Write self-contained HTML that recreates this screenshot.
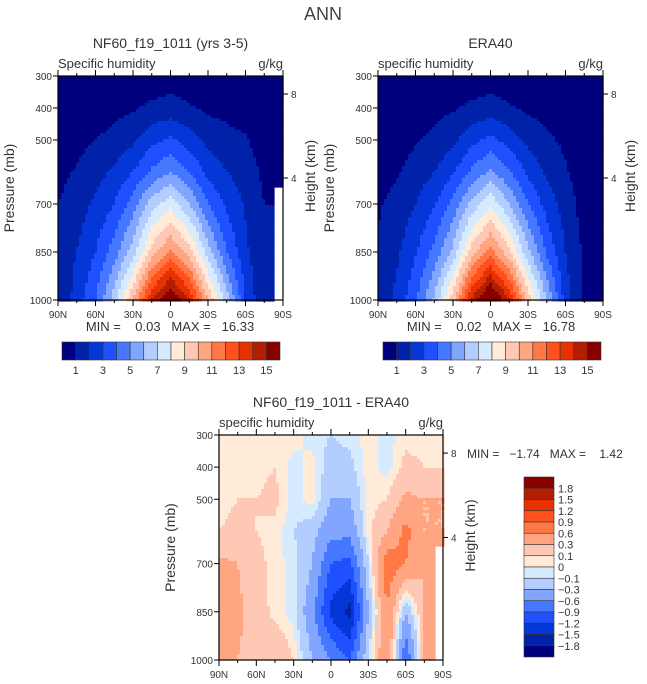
<!DOCTYPE html>
<html><head><meta charset="utf-8"><style>
body{margin:0;background:#fff;}
svg{display:block;font-family:"Liberation Sans",sans-serif;}
.pre{white-space:pre;}
</style></head><body>
<svg id="fig" width="647" height="684" viewBox="0 0 647 684">
<text x="323" y="20" font-size="18" fill="#444" text-anchor="middle">ANN</text>
</svg>
<script>
const lats = [90,75,60,45,30,15,0,-15,-30,-45,-60,-75,-90];
const levs = [300,400,500,600,700,850,1000];
const modelQ = [
 [0.05,0.1,0.15,0.2,0.3,0.4,0.5,0.4,0.3,0.2,0.15,0.1,0.03],
 [0.2,0.3,0.5,0.7,0.9,1.2,1.4,1.1,0.8,0.7,0.6,0.2,0.05],
 [0.4,0.7,1.0,1.3,1.8,2.7,3.2,2.5,1.7,1.3,1.1,0.5,0.1],
 [0.7,1.1,1.6,2.2,3.0,4.2,5.0,4.0,2.7,2.0,1.5,0.8,0.2],
 [1.0,1.5,2.2,3.0,4.5,6.5,7.6,6.0,4.0,2.8,1.9,1.0,null],
 [1.2,2.0,3.0,4.5,6.5,9.5,11.2,9.5,6.5,4.0,2.2,1.1,null],
 [0.9,2.5,4.0,6.5,10,14,16.3,14,10,6.5,3.0,1.0,null]];
const eraQ = [
 [0.05,0.1,0.15,0.2,0.3,0.4,0.5,0.4,0.3,0.2,0.15,0.1,0.02],
 [0.2,0.3,0.5,0.7,0.9,1.2,1.4,1.1,0.8,0.6,0.4,0.2,0.05],
 [0.4,0.6,0.9,1.2,1.7,2.7,3.3,2.6,1.7,1.2,0.8,0.4,0.1],
 [0.6,0.9,1.4,2.0,2.9,4.2,5.2,4.1,2.8,1.8,1.1,0.5,0.2],
 [0.9,1.3,2.0,2.9,4.3,6.3,7.8,6.0,4.0,2.6,1.5,0.6,0.3],
 [1.1,1.8,2.9,4.3,6.3,9.6,11.4,9.3,6.3,3.8,2.0,0.8,0.4],
 [1.2,2.3,3.8,6.2,9.6,14.2,16.8,14,9.6,6.0,2.5,0.9,0.5]];
const diffQ = [
 [0.05,0.05,0.05,0.05,0.05,-0.05,-0.1,-0.05,0.05,-0.05,0.05,0.05,0.05],
 [0.05,0.05,0.05,0.1,-0.05,0.05,-0.2,-0.15,0.05,-0.05,0.15,0.1,0.1],
 [0.05,0.1,0.1,0.15,-0.05,0.05,-0.3,-0.3,0.05,0.1,0.35,0.3,0.3],
 [0.1,0.15,0.1,0.05,-0.1,-0.2,-0.5,-0.5,0.05,0.3,0.7,0.3,0.3],
 [0.35,0.3,0.15,0.05,-0.05,-0.3,-0.9,-1.0,-0.1,0.8,0.6,0.3,null],
 [0.4,0.35,0.2,0.05,-0.05,-0.5,-1.3,-1.6,-0.3,0.6,-0.3,0.3,null],
 [0.4,0.3,0.2,0.3,0.1,-0.3,-0.6,-0.9,-0.1,0.6,-0.9,0.3,null]];
const qLevels = [1,2,3,4,5,6,7,8,9,10,11,12,13,14,15];
const qLabels = ["1","3","5","7","9","11","13","15"];
const dLevels = [-1.8,-1.5,-1.2,-0.9,-0.6,-0.3,-0.1,0,0.1,0.3,0.6,0.9,1.2,1.5,1.8];
const latTicks = ["90N","60N","30N","0","30S","60S","90S"];
const presTicks = [300,400,500,700,850,1000];
const hTicks = [[8,94],[4,178]];
const palette = ["#00007f","#0022a8","#0537d8","#1e50ff","#4678ff","#82a5ff","#b4cdff","#d7ebff","#ffebd7","#ffc8b4","#ffa582","#ff7846","#ff501e","#e63200","#b41e00","#870000"];
const NS="http://www.w3.org/2000/svg";
const svg=document.getElementById('fig');
function el(tag,attrs,parent){const e=document.createElementNS(NS,tag);for(const k in attrs)e.setAttribute(k,attrs[k]);(parent||svg).appendChild(e);return e;}
function txt(x,y,s,size,anchor,parent,extra){const t=el('text',Object.assign({x:x,y:y,'font-size':size,fill:'#333','text-anchor':anchor||'start'},extra||{}),parent);t.textContent=s;return t;}
function colorFor(v,levels){let i=0;while(i<levels.length&&v>=levels[i])i++;return palette[i];}
function sample(grid,lat,p){
  let j=0;while(j<lats.length-2&&lat<lats[j+1])j++;
  let i=0;while(i<levs.length-2&&p>levs[i+1])i++;
  const fx=(lats[j]-lat)/(lats[j]-lats[j+1]);const fy=(p-levs[i])/(levs[i+1]-levs[i]);
  const a=grid[i][j],b=grid[i][j+1],c=grid[i+1][j],d=grid[i+1][j+1];
  if(a===null||b===null||c===null||d===null){
    const nx=fx<0.5?0:1, ny=fy<0.5?0:1;const n=[[a,b],[c,d]][ny][nx];
    if(n===null)return null;
    const vals=[a,b,c,d].filter(v=>v!==null);return vals.reduce((s,v)=>s+v,0)/vals.length;}
  return a*(1-fx)*(1-fy)+b*fx*(1-fy)+c*(1-fx)*fy+d*fx*fy;}
function panel(o){
  const g=el('g',{});
  
  
  const X=lat=>o.x+(90-lat)/180*o.w;
  const Y=p=>o.y+(p-300)/700*o.h;
  const cell=3;
  const field=el('g',{},g);
  
  
  for(let px=0;px<o.w;px+=cell){for(let py=0;py<o.h;py+=cell){
    const lat=90-(px+cell/2)/o.w*180;const p=300+(py+cell/2)/o.h*700;
    const v=sample(o.data,lat,p);if(v===null)continue;
    const r=el('rect',{x:o.x+px,y:o.y+py,width:cell+0.6,height:cell+0.6,fill:colorFor(v,o.levels)},field);
    
    }}
  const fr=el('rect',{x:o.x,y:o.y,width:o.w,height:o.h,fill:'none',stroke:'#000','stroke-width':1.2},g);
  
  
  for(let k=0;k<=12;k++){const lat=90-k*15;const xx=X(lat);const L=k%2===0?6:3;
    el('line',{x1:xx,y1:o.y,x2:xx,y2:o.y-L,stroke:'#000'},g);
    el('line',{x1:xx,y1:o.y+o.h,x2:xx,y2:o.y+o.h+L,stroke:'#000'},g);}
  latTicks.forEach((s,k)=>{const t=txt(X(90-k*30),o.y+o.h+18,s,10,'middle',g);
    });
  presTicks.forEach(p=>{el('line',{x1:o.x,y1:Y(p),x2:o.x-5,y2:Y(p),stroke:'#000'},g);
    const t=txt(o.x-6,Y(p)+4,String(p),10,'end',g);
    });
  hTicks.forEach(h=>{const yy=o.y+(h[1]-76)/224*o.h;el('line',{x1:o.x+o.w,y1:yy,x2:o.x+o.w+5,y2:yy,stroke:'#000'},g);
    const t=txt(o.x+o.w+8,yy+4,String(h[0]),10,'start',g);
    });
  let t=txt(o.x+o.w/2,o.y-28,o.title,14,'middle',g);
  t=txt(o.x,o.y-8,o.sub,13,'start',g);
  t=txt(o.x+o.w,o.y-8,'g/kg',13,'end',g);
  t=txt(0,0,'Pressure (mb)',14,'middle',g,{transform:`translate(${o.x-44},${o.y+o.h/2}) rotate(-90)`});
  t=txt(0,0,'Height (km)',14,'middle',g,{transform:`translate(${o.x+o.w+32},${o.y+o.h/2-12}) rotate(-90)`});
}
function hbar(x,y,w,h,name){
  const g=el('g',{});
  const bw=w/16;
  palette.forEach((c,i)=>{const r=el('rect',{x:x+i*bw,y:y,width:bw,height:h,fill:c,stroke:'#333','stroke-width':0.6},g);
    });
  qLabels.forEach((s,k)=>{const t=txt(x+(1+2*k)*bw,y+h+14,s,11,'middle',g);});
}
panel({name:'model-panel',x:58,y:76,w:225,h:224,data:modelQ,levels:qLevels,title:'NF60_f19_1011 (yrs 3-5)',sub:'Specific humidity'});
panel({name:'era40-panel',x:378,y:76,w:225,h:224,data:eraQ,levels:qLevels,title:'ERA40',sub:'specific humidity'});
panel({name:'difference-panel',x:219,y:435,w:224,h:225,data:diffQ,levels:dLevels,title:'NF60_f19_1011 - ERA40',sub:'specific humidity'});
let m=txt(170,331,'MIN =    0.03   MAX =   16.33',13,'middle',null,{class:'pre'});
m=txt(491,331,'MIN =    0.02   MAX =   16.78',13,'middle',null,{class:'pre'});
m=txt(467,458,'MIN =   \u22121.74   MAX =    1.42',12,'start',null,{class:'pre'});
hbar(62,342,218,18,'model-colorbar');
hbar(383,342,218,18,'era40-colorbar');
(function(){const x=524,y=477,w=30,h=180;const g=el('g',{});
  
  const bh=h/16;
  palette.slice().reverse().forEach((c,i)=>{const r=el('rect',{x:x,y:y+i*bh,width:w,height:bh,fill:c,stroke:'#333','stroke-width':0.6},g);
    });
  dLevels.slice().reverse().forEach((v,i)=>{const t=txt(x+w+4,y+(i+1)*bh+4,v<0?'\u2212'+Math.abs(v):String(v),11,'start',g);
    });
})();
</script>
</body></html>
